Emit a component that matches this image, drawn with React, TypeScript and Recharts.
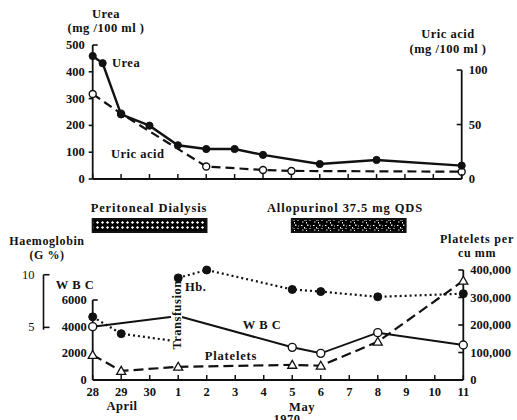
import { LineChart, Line, XAxis, YAxis, ReferenceLine, ReferenceArea } from "recharts";

const FONT = "'Liberation Serif', 'DejaVu Serif', serif";
const INK = "#111";

// day axis: 28 April .. 11 May 1970 (index 0..13)
const dayLabels = ["28", "29", "30", "1", "2", "3", "4", "5", "6", "7", "8", "9", "10", "11"];
const dayTicks = dayLabels.map((_, i) => i);
const transfusionDay = 3;

// top panel
const ureaDays = [0, 0.35, 1, 2, 3, 4, 5, 6, 8, 10, 13];
const ureaMg = [459, 432, 241, 199, 126, 112, 112, 90, 56, 71, 50];
const uricDays = [0, 1, 4, 6, 7, 13];
const uricMg = [78, 60, 11.5, 8.3, 7.4, 6.7];
const ureaTicks = [0, 100, 200, 300, 400, 500];
const uricTicks = [0, 50, 100];

// treatments
const treatmentNames = ["Peritoneal Dialysis", "Allopurinol 37.5 mg  QDS"];
const treatmentFrom = [0, 7];
const treatmentTo = [4, 11];
const treatmentFill = ["hatch", "speckle"];

// bottom panel
const hbBeforeDays = [0, 1, 3];
const hbBefore = [6.0, 4.4, 3.65];
const hbAfterDays = [3, 4, 7, 8, 10, 13];
const hbAfter = [9.7, 10.45, 8.6, 8.4, 7.9, 8.2];
const wbcDays = [0, 3, 7, 8, 10, 13];
const wbcCount = [4000, 4800, 2450, 2000, 3550, 2625];
const plateletDays = [0, 1, 3, 7, 8, 10, 13];
const plateletCount = [91000, 33000, 48000, 55000, 52000, 139000, 361000];
const wbcTicks = [0, 2000, 4000, 6000];
const hbTicks = [5, 10];
const hbDomain = [0, 10];
const plateletTicks = [0, 100000, 200000, 300000, 400000];

const toPoints = (days: number[], values: number[]) => days.map((day, i) => ({ day, value: values[i] }));

const txt = { fontFamily: FONT, fontWeight: 700, fontSize: 12.5, fill: INK };

function T({ x, y, children, anchor = "middle", rotate, size = 12.5, spacing = 0.5 }: any) {
  return (
    <text
      x={x}
      y={y}
      textAnchor={anchor}
      dominantBaseline="central"
      {...txt}
      fontSize={size}
      letterSpacing={spacing}
      transform={rotate ? `rotate(${rotate} ${x} ${y})` : undefined}
    >
      {children}
    </text>
  );
}

const leftTick = (topValue: number, gap: number, outward: boolean) => (p: any) => {
  const { x, y, payload } = p;
  const isTop = payload.value === topValue;
  return (
    <g>
      {(isTop || outward) && (
        <line x1={x} y1={y} x2={isTop ? x + 5 : x - 4} y2={y} stroke={INK} strokeWidth={1.6} />
      )}
      <text x={x - gap} y={y} textAnchor="end" dominantBaseline="central" {...txt}>
        {payload.value}
      </text>
    </g>
  );
};

const rightTick = (fmt: (v: number) => string) => (p: any) => {
  const { x, y, payload } = p;
  return (
    <g>
      {payload.value !== 0 && <line x1={x} y1={y} x2={x - 5} y2={y} stroke={INK} strokeWidth={1.6} />}
      <text x={x + 7} y={y} textAnchor="start" dominantBaseline="central" {...txt}>
        {fmt(payload.value)}
      </text>
    </g>
  );
};

const dayTick = (withLabels: boolean) => (p: any) => {
  const { x, y, payload } = p;
  return (
    <g>
      <line x1={x} y1={y} x2={x} y2={y - 5} stroke={INK} strokeWidth={1.5} />
      {withLabels && (
        <text x={x} y={y + 12} textAnchor="middle" dominantBaseline="central" {...txt}>
          {dayLabels[payload.value]}
        </text>
      )}
    </g>
  );
};

function HbTick(p: any) {
  const { x, y, payload, height } = p;
  const h = typeof height === "number" && height > 0 ? height : 110;
  const span = (h * (hbTicks[1] - hbTicks[0])) / (hbDomain[1] - hbDomain[0]);
  return (
    <g>
      <line x1={x} y1={y} x2={x + 6} y2={y} stroke={INK} strokeWidth={1.6} />
      {payload.value === hbTicks[1] && <line x1={x} y1={y} x2={x} y2={y + span} stroke={INK} strokeWidth={1.6} />}
      <text x={x - 9} y={y} textAnchor="end" dominantBaseline="central" {...txt} fontWeight={400}>
        {payload.value}
      </text>
    </g>
  );
}

const filledDot = (r: number, skipLast = false, len = 0) => (p: any) => {
  if (skipLast && p.index === len - 1) return <g key={`f${p.index}`} />;
  return <circle key={`f${p.index}`} cx={p.cx} cy={p.cy} r={r} fill={INK} stroke={INK} strokeWidth={1} />;
};

const openDot = (r: number, skipDay?: number) => (p: any) => {
  if (skipDay !== undefined && p.payload.day === skipDay) return <g key={`o${p.index}`} />;
  return <circle key={`o${p.index}`} cx={p.cx} cy={p.cy} r={r} fill="#fff" stroke={INK} strokeWidth={1.4} />;
};

const triDot = (p: any) => {
  const s = 4.5;
  return (
    <path
      key={`t${p.index}`}
      d={`M${p.cx},${p.cy - s} L${p.cx + s},${p.cy + s * 0.75} L${p.cx - s},${p.cy + s * 0.75} Z`}
      fill="#fff"
      stroke={INK}
      strokeWidth={1.3}
    />
  );
};

const axisLine = { stroke: INK, strokeWidth: 1.8 };

export default function App() {
  const treatmentPoints = treatmentFrom.flatMap((f, i) => [
    { day: f, band: 0.5 },
    { day: treatmentTo[i], band: 0.5 },
  ]);
  return (
    <div style={{ position: "absolute", left: 0, top: 0, width: 517, height: 420, background: "#fff", overflow: "hidden" }}>
      <svg width={0} height={0} style={{ position: "absolute" }}>
        <defs>
          <pattern id="hatch" width="5" height="5" patternUnits="userSpaceOnUse">
            <rect width="5" height="5" fill="#000" />
            <path d="M2.5 0.9 L4.1 2.5 L2.5 4.1 L0.9 2.5 Z" fill="#fff" />
          </pattern>
          <pattern id="speckle" width="12" height="8" patternUnits="userSpaceOnUse">
            <rect width="12" height="8" fill="#000" />
            <rect x="1" y="1" width="1.5" height="1" fill="#fff" />
            <rect x="4" y="3" width="1" height="1.5" fill="#fff" />
            <rect x="7" y="0.5" width="1.5" height="1.5" fill="#ddd" />
            <rect x="9.5" y="4" width="1" height="1" fill="#fff" />
            <rect x="2" y="5.5" width="1.5" height="1" fill="#eee" />
            <rect x="6" y="6" width="1" height="1.5" fill="#fff" />
            <rect x="10" y="1.5" width="1" height="1" fill="#ccc" />
            <rect x="5.5" y="4" width="1" height="1" fill="#ddd" />
          </pattern>
        </defs>
      </svg>

      <div style={{ position: "absolute", left: 0, top: 0 }}>
        <LineChart width={517} height={200} margin={{ top: 45, right: 0, bottom: 0, left: 0 }}>
          <XAxis
            type="number"
            dataKey="day"
            domain={[0, 13]}
            ticks={dayTicks}
            interval={0}
            height={21}
            tickSize={0}
            tickMargin={0}
            tickLine={false}
            axisLine={axisLine}
            tick={dayTick(false)}
          />
          <YAxis
            yAxisId="urea"
            domain={[0, 500]}
            ticks={ureaTicks}
            interval={0}
            width={92.7}
            tickSize={0}
            tickMargin={0}
            tickLine={false}
            axisLine={axisLine}
            tick={leftTick(500, 8, true)}
          />
          <YAxis
            yAxisId="uric"
            orientation="right"
            domain={[0, 123]}
            ticks={uricTicks}
            interval={0}
            width={55.3}
            tickSize={0}
            tickMargin={0}
            tickLine={false}
            axisLine={false}
            tick={rightTick((v) => String(v))}
          />
          <ReferenceLine
            yAxisId="uric"
            segment={[{ x: 13, y: 0 }, { x: 13, y: 100 }]}
            stroke={INK}
            strokeWidth={1.8}
            ifOverflow="visible"
          />
          <Line
            yAxisId="uric"
            data={toPoints(uricDays, uricMg)}
            dataKey="value"
            stroke={INK}
            strokeWidth={2.2}
            strokeDasharray="9 5"
            dot={openDot(3.5)}
            activeDot={false}
            isAnimationActive={false}
          />
          <Line
            yAxisId="urea"
            data={toPoints(ureaDays, ureaMg)}
            dataKey="value"
            stroke={INK}
            strokeWidth={2.4}
            dot={filledDot(3.6)}
            activeDot={false}
            isAnimationActive={false}
          />
        </LineChart>
      </div>

      <div style={{ position: "absolute", left: 0, top: 200 }}>
        <LineChart width={517} height={40} margin={{ top: 19, right: 54.5, bottom: 8, left: 92.7 }} data={treatmentPoints}>
          <XAxis type="number" dataKey="day" domain={[0, 13]} hide />
          <YAxis domain={[0, 1]} hide />
          {treatmentNames.map((name, i) => (
            <ReferenceArea
              key={name}
              x1={treatmentFrom[i]}
              x2={treatmentTo[i]}
              y1={0}
              y2={1}
              fill={`url(#${treatmentFill[i]})`}
              fillOpacity={1}
              stroke={INK}
              strokeWidth={2}
              ifOverflow="visible"
            />
          ))}
          <Line dataKey="band" stroke="none" dot={false} activeDot={false} isAnimationActive={false} />
        </LineChart>
      </div>

      <div style={{ position: "absolute", left: 0, top: 240 }}>
        <LineChart width={517} height={180} margin={{ top: 30, right: 0, bottom: 0, left: 0 }}>
          <XAxis
            type="number"
            dataKey="day"
            domain={[0, 13]}
            ticks={dayTicks}
            interval={0}
            height={40}
            tickSize={0}
            tickMargin={0}
            tickLine={false}
            axisLine={axisLine}
            tick={dayTick(true)}
          />
          <YAxis
            yAxisId="left1"
            domain={[0, 8250]}
            ticks={wbcTicks}
            interval={0}
            width={49.2}
            tickSize={0}
            tickMargin={0}
            tickLine={false}
            axisLine={false}
            tick={leftTick(6000, 6, false)}
          />
          <YAxis
            yAxisId="left2"
            domain={hbDomain}
            ticks={hbTicks}
            interval={0}
            width={43.5}
            tickSize={0}
            tickMargin={0}
            tickLine={false}
            axisLine={false}
            tick={(p: any) => <HbTick {...p} />}
          />
          <YAxis
            yAxisId="right"
            orientation="right"
            domain={[0, 400000]}
            ticks={plateletTicks}
            interval={0}
            width={53.7}
            tickSize={0}
            tickMargin={0}
            tickLine={false}
            axisLine={axisLine}
            tick={rightTick((v) => v.toLocaleString("en-US"))}
          />
          <ReferenceLine
            yAxisId="left1"
            segment={[{ x: 0, y: 0 }, { x: 0, y: 6000 }]}
            stroke={INK}
            strokeWidth={1.8}
            ifOverflow="visible"
          />
          <Line
            yAxisId="right"
            data={toPoints(plateletDays, plateletCount)}
            dataKey="value"
            stroke={INK}
            strokeWidth={2.2}
            strokeDasharray="10 5"
            dot={triDot}
            activeDot={false}
            isAnimationActive={false}
          />
          <Line
            yAxisId="left1"
            data={toPoints(wbcDays, wbcCount)}
            dataKey="value"
            stroke={INK}
            strokeWidth={2}
            dot={openDot(4, transfusionDay)}
            activeDot={false}
            isAnimationActive={false}
          />
          <Line
            yAxisId="left2"
            data={toPoints(hbBeforeDays, hbBefore)}
            dataKey="value"
            stroke={INK}
            strokeWidth={2.2}
            strokeDasharray="2 3"
            dot={filledDot(4, true, hbBeforeDays.length)}
            activeDot={false}
            isAnimationActive={false}
          />
          <Line
            yAxisId="left2"
            data={toPoints(hbAfterDays, hbAfter)}
            dataKey="value"
            stroke={INK}
            strokeWidth={2.2}
            strokeDasharray="2 3"
            dot={filledDot(4)}
            activeDot={false}
            isAnimationActive={false}
          />
        </LineChart>
      </div>

      <svg width={517} height={420} style={{ position: "absolute", left: 0, top: 0, pointerEvents: "none" }}>
        <T x={106} y={14}>Urea</T>
        <T x={106} y={28}>(mg /100 ml )</T>
        <T x={112} y={63} anchor="start">Urea</T>
        <T x={111} y={154} anchor="start">Uric acid</T>
        <T x={448} y={34}>Uric acid</T>
        <T x={448} y={49}>(mg /100 ml )</T>

        {treatmentNames.map((name, i) => (
          <T key={name} x={i === 0 ? 149 : 345} y={208} spacing={0.9}>
            {name}
          </T>
        ))}

        <T x={47} y={241} size={12} spacing={0.6}>Haemoglobin</T>
        <T x={47} y={255} size={12}>(G %)</T>
        <T x={75} y={285}>W B C</T>
        <T x={185} y={287} anchor="start">Hb.</T>
        <rect x={171} y={283} width={11} height={65} fill="#fff" />
        <T x={176.5} y={315} rotate={-90}>Transfusion</T>
        <T x={262} y={325}>W B C</T>
        <T x={231} y={356} spacing={0.8}>Platelets</T>
        <T x={477} y={239} size={12} spacing={0.8}>Platelets per</T>
        <T x={477} y={253} size={12} spacing={0.6}>cu mm</T>

        <T x={122} y={406}>April</T>
        <T x={302} y={407}>May</T>
        <T x={287} y={419}>1970</T>
      </svg>
    </div>
  );
}
